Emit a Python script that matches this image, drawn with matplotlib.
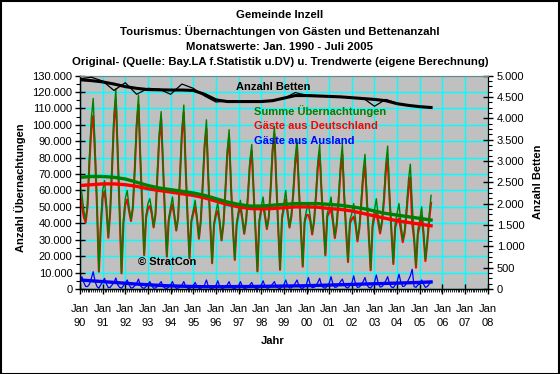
import numpy as np
import matplotlib
matplotlib.use("Agg")
import matplotlib.pyplot as plt
from matplotlib.ticker import FixedLocator, MultipleLocator, FuncFormatter
from matplotlib.patches import Rectangle

plt.rcParams['font.family'] = ['Liberation Sans', 'DejaVu Sans']

# ---------------- data (monthly, Jan 1990 - Jul 2005) ----------------
summe = [
    63000, 58000, 48000, 42000, 52000, 80000, 104000, 116000, 85000, 52000, 11000, 40000,   # 1990
    60000, 66000, 52000, 32000, 48000, 76000, 106000, 122000, 84000, 48000, 10000, 42000,   # 1991
    55000, 60000, 50000, 42000, 50000, 74000, 102000, 118000, 80000, 50000, 21000, 45000,   # 1992
    52000, 55000, 48000, 38000, 46000, 70000, 95000, 108000, 76000, 46000, 20000, 43000,    # 1993
    50000, 56000, 46000, 36000, 44000, 70000, 97000, 112000, 74000, 44000, 19000, 42000,    # 1994
    48000, 54000, 44000, 31000, 42000, 64000, 89000, 103000, 68000, 40000, 16000, 40000,    # 1995
    47000, 52500, 42000, 30000, 40000, 60000, 84000, 97000, 64000, 38000, 18000, 40000,     # 1996
    48000, 54000, 44000, 34000, 42000, 58000, 78000, 88000, 60000, 36000, 11000, 42000,     # 1997
    50000, 56000, 46000, 37000, 44000, 62000, 86000, 99000, 66000, 38000, 12000, 44000,     # 1998
    52000, 60000, 48000, 38000, 45000, 60000, 80000, 91000, 62000, 38000, 14000, 42000,     # 1999
    48000, 52000, 44000, 34000, 42000, 58000, 78000, 88000, 60000, 40000, 21000, 46000,     # 2000
    50000, 56000, 44000, 32000, 40000, 56000, 76000, 88000, 58000, 36000, 17000, 42000,     # 2001
    46000, 52000, 42000, 30000, 38000, 54000, 72000, 82000, 56000, 34000, 12000, 40000,     # 2002
    48000, 55000, 44000, 35000, 42000, 56000, 76000, 87000, 58000, 36000, 16000, 40000,     # 2003
    46000, 52000, 40000, 30000, 36000, 50000, 66000, 76000, 52000, 32000, 14000, 36000,     # 2004
    42000, 50000, 36000, 18000, 30000, 45000, 57000,                                         # 2005
]
deutschland = [
    58000, 50500, 44000, 40500, 50500, 77000, 97500, 105500, 80500, 50500, 10500, 37500,
    55500, 59500, 49000, 31200, 47000, 73500, 102000, 115300, 81500, 47000, 9500, 40000,
    51500, 54500, 47500, 41400, 49200, 72000, 98500, 112000, 78000, 49200, 20600, 43500,
    49000, 50500, 46000, 37500, 45400, 68500, 92000, 103500, 74500, 45400, 19700, 41800,
    47500, 51500, 44200, 35600, 43500, 68800, 94500, 107500, 72500, 43500, 18700, 41000,
    46000, 50000, 42500, 30600, 41500, 62800, 86500, 97500, 66500, 39500, 15700, 39000,
    45000, 47500, 40500, 29600, 39500, 58800, 81500, 92500, 62800, 37500, 17700, 39000,
    46000, 49500, 42500, 33600, 41500, 56800, 75500, 84000, 58800, 35500, 10700, 41000,
    47800, 51000, 44200, 36500, 43400, 60500, 83000, 94500, 64500, 37400, 11700, 42800,
    49500, 54500, 46000, 37400, 44300, 58200, 76500, 85500, 60200, 37400, 13600, 40500,
    45000, 45000, 41500, 33200, 41000, 56000, 74000, 81500, 58000, 39200, 20500, 44200,
    46500, 48500, 41000, 31000, 38800, 53500, 71500, 82000, 55500, 35000, 16400, 40000,
    42500, 44000, 39000, 29000, 36800, 51500, 67500, 75000, 53500, 33000, 11400, 37800,
    44000, 46500, 40500, 33800, 40500, 53000, 71000, 79500, 55000, 34800, 15200, 37500,
    41500, 43000, 36000, 28500, 34200, 46500, 60500, 68000, 40000, 30500, 13000, 33500,
    39000, 44500, 33000, 17000, 28500, 42000, 52500,
]
ausland = [
    5000, 7500, 4000, 1500, 1500, 3000, 6500, 10500, 4500, 1500, 500, 2500,
    4500, 6500, 3000, 800, 1000, 2500, 4000, 6700, 2500, 1000, 500, 2000,
    3500, 5500, 2500, 600, 800, 2000, 3500, 6000, 2000, 800, 400, 1500,
    3000, 4500, 2000, 500, 600, 1500, 3000, 4500, 1500, 600, 300, 1200,
    2500, 4500, 1800, 400, 500, 1200, 2500, 4500, 1500, 500, 300, 1000,
    2000, 4000, 1500, 400, 500, 1200, 2500, 5500, 1500, 500, 300, 1000,
    2000, 5000, 1500, 400, 500, 1200, 2500, 4500, 1200, 500, 300, 1000,
    2000, 4500, 1500, 400, 500, 1200, 2500, 4000, 1200, 500, 300, 1000,
    2200, 5000, 1800, 500, 600, 1500, 3000, 4500, 1500, 600, 300, 1200,
    2500, 5500, 2000, 600, 700, 1800, 3500, 5500, 1800, 600, 400, 1500,
    3000, 7000, 2500, 800, 1000, 2000, 4000, 6500, 2000, 800, 500, 1800,
    3500, 7500, 3000, 1000, 1200, 2500, 4500, 6000, 2500, 1000, 600, 2000,
    3500, 8000, 3000, 1000, 1200, 2500, 4500, 7000, 2500, 1000, 600, 2200,
    4000, 8500, 3500, 1200, 1500, 3000, 5000, 7500, 3000, 1200, 800, 2500,
    4500, 9000, 4000, 1500, 1800, 3500, 5500, 8000, 12000, 1500, 1000, 2500,
    3000, 5500, 3000, 1000, 1500, 3000, 4500,
]

# trend values at half-year points (Jan / Jul), 1990.0 - 2005.5
trend_t = [1990.0, 1990.5, 1991.0, 1991.5, 1992.0, 1992.5, 1993.0, 1993.5,
           1994.0, 1994.5, 1995.0, 1995.5, 1996.0, 1996.5, 1997.0, 1997.5,
           1998.0, 1998.5, 1999.0, 1999.5, 2000.0, 2000.5, 2001.0, 2001.5,
           2002.0, 2002.5, 2003.0, 2003.5, 2004.0, 2004.5, 2005.0, 2005.5]
trend_summe = [68000, 68500, 68500, 68000, 67000, 65000, 63000, 61500,
               60500, 59500, 58500, 57000, 55000, 53000, 51500, 50500,
               50500, 51000, 51500, 52000, 52000, 52000, 51500, 51000,
               50000, 49000, 47500, 46000, 45000, 44000, 43000, 42000]
trend_deutsch = [63000, 63500, 64000, 64000, 63500, 62500, 61000, 60000,
                 59000, 58000, 57000, 55500, 53500, 51500, 50000, 49000,
                 48800, 49000, 49500, 50000, 50000, 49800, 49000, 48500,
                 47500, 46000, 44500, 43000, 41500, 40500, 39500, 38500]
trend_ausland = [5500, 5000, 4500, 4000, 3500, 3000, 2600, 2200,
                 1900, 1700, 1500, 1400, 1400, 1400, 1500, 1500,
                 1600, 1700, 1800, 1900, 2000, 2200, 2400, 2600,
                 2800, 3000, 3200, 3400, 3600, 3800, 4000, 4300]
betten = [4920, 4960, 4870, 4650, 4830, 4560, 4700, 4680,
          4560, 4800, 4700, 4520, 4380, 4400, 4400, 4380,
          4390, 4420, 4460, 4600, 4540, 4530, 4510, 4500,
          4480, 4470, 4280, 4440, 4350, 4300, 4270, 4250]
trend_betten = [4900, 4880, 4850, 4800, 4740, 4700, 4670, 4665,
                4660, 4660, 4650, 4560, 4430, 4390, 4390, 4390,
                4390, 4410, 4470, 4530, 4530, 4520, 4510, 4500,
                4480, 4460, 4440, 4410, 4340, 4300, 4270, 4250]

year_labels = ["90", "91", "92", "93", "94", "95", "96", "97", "98", "99",
               "00", "01", "02", "03", "04", "05", "06", "07", "08"]

# ---------------- figure ----------------
W, H = 560, 374
fig = plt.figure(figsize=(W / 100, H / 100), dpi=100)
fig.patch.set_facecolor('white')
fig.patches.append(Rectangle((0.001, 0.001), 0.997, 0.996, transform=fig.transFigure,
                             fill=False, edgecolor='black', linewidth=1.5))

x0, x1, ytop, ybot = 80, 487.7, 75.5, 289
ax = fig.add_axes([x0 / W, (H - ybot) / H, (x1 - x0) / W, (ybot - ytop) / H])
ax.set_facecolor('#C0C0C0')
ax.set_xlim(1990, 2008)
ax.set_ylim(0, 130000)

t = 1990 + np.arange(len(summe)) / 12.0

ax.set_axisbelow(True)
ax.grid(True, which='major', color='#00FFFF', linewidth=1.0)

ax.plot(t, deutschland, color='#FF0000', lw=1.5, zorder=3)
ax.plot(t, summe, color='#008000', lw=1.0, zorder=4)
ax.plot(t, ausland, color='#0000FF', lw=0.9, zorder=4)
ax.plot(trend_t, trend_deutsch, color='#FF0000', lw=2.4, zorder=5)
ax.plot(trend_t, trend_summe, color='#008000', lw=2.4, zorder=6)
ax.plot(trend_t, trend_ausland, color='#0000FF', lw=2.4, zorder=6)

fmt = FuncFormatter(lambda v, p: f"{int(round(v)):,}".replace(",", "."))
ax.yaxis.set_major_locator(MultipleLocator(10000))
ax.yaxis.set_minor_locator(MultipleLocator(5000))
ax.yaxis.set_major_formatter(fmt)
ax.xaxis.set_major_locator(FixedLocator(list(range(1990, 2009))))
ax.xaxis.set_minor_locator(MultipleLocator(1 / 12))
ax.set_xticklabels(["Jan\n" + s for s in year_labels], linespacing=1.5)

ax.tick_params(axis='both', which='major', direction='inout', length=7, width=1,
               labelsize=8, colors='black', pad=2)
ax.tick_params(axis='y', which='minor', direction='out', length=3, width=0.8)
ax.tick_params(axis='x', which='minor', direction='out', length=2, width=0.6)
ax.tick_params(axis='x', which='major', pad=7)

for s in ['left', 'bottom']:
    ax.spines[s].set_color('black')
    ax.spines[s].set_linewidth(1.0)
ax.spines['top'].set_color('#808080')
ax.spines['right'].set_color('black')

ax2 = ax.twinx()
ax2.set_ylim(0, 5000)
ax2.plot(trend_t, betten, color='black', lw=0.9, zorder=3)
ax2.plot(trend_t, trend_betten, color='black', lw=2.2, zorder=4)
ax2.yaxis.set_major_locator(MultipleLocator(500))
ax2.yaxis.set_minor_locator(MultipleLocator(125))
ax2.yaxis.set_major_formatter(fmt)
ax2.tick_params(axis='y', which='major', direction='inout', length=7, width=1,
                labelsize=8, pad=3)
ax2.tick_params(axis='y', which='minor', direction='out', length=3, width=0.8)
ax2.spines['top'].set_color('#808080')
ax2.spines['right'].set_color('black')

def ftxt(x, y, s, **kw):
    fig.text(x / W, 1 - y / H, s, **kw)

# titles
titles = ["Gemeinde Inzell",
          "Tourismus: Übernachtungen von Gästen und Bettenanzahl",
          "Monatswerte: Jan. 1990 - Juli 2005",
          "Original- (Quelle: Bay.LA f.Statistik u.DV) u. Trendwerte (eigene Berechnung)"]
for i, s in enumerate(titles):
    ftxt(280, 15.5 + i * 15.5, s, ha='center', va='center', fontsize=8.2, fontweight='bold')

ftxt(20, 188, "Anzahl Übernachtungen", rotation=90, ha='center', va='center',
     fontsize=8, fontweight='bold')
ftxt(538, 182, "Anzahl Betten", rotation=90, ha='center', va='center',
     fontsize=8, fontweight='bold')
ftxt(273, 341, "Jahr", ha='center', va='center', fontsize=8, fontweight='bold')

ftxt(236, 87, "Anzahl Betten", ha='left', va='center', fontsize=8, fontweight='bold', color='black')
ftxt(254, 111, "Summe Übernachtungen", ha='left', va='center', fontsize=8, fontweight='bold', color='#008000')
ftxt(254, 126, "Gäste aus Deutschland", ha='left', va='center', fontsize=8, fontweight='bold', color='#FF0000')
ftxt(254, 141, "Gäste aus Ausland", ha='left', va='center', fontsize=8, fontweight='bold', color='#0000FF')
ftxt(138, 262, "© StratCon", ha='left', va='center', fontsize=8, fontweight='bold', color='black')

fig.savefig("out.png", dpi=100)
